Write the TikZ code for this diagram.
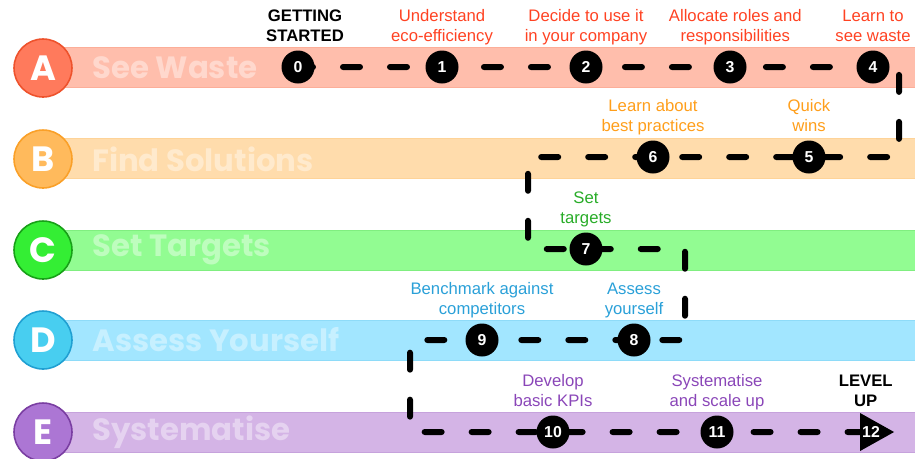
\documentclass[tikz,border=0pt]{standalone}
\usepackage{fontspec}
\setmainfont{Liberation Sans}
\newfontfamily\lanefont{Poppins}
\usetikzlibrary{shapes.geometric,positioning}

\definecolor{redband}{RGB}{255,190,172}
\definecolor{reddot}{RGB}{255,122,92}
\definecolor{redline}{RGB}{238,82,44}
\definecolor{redtext}{RGB}{255,66,34}
\definecolor{orangeband}{RGB}{255,220,172}
\definecolor{orangedot}{RGB}{255,186,92}
\definecolor{orangeline}{RGB}{250,160,40}
\definecolor{orangetext}{RGB}{255,158,26}
\definecolor{greenband}{RGB}{146,252,146}
\definecolor{greendot}{RGB}{52,238,52}
\definecolor{greenline}{RGB}{24,160,24}
\definecolor{greentext}{RGB}{40,172,40}
\definecolor{blueband}{RGB}{162,230,255}
\definecolor{bluedot}{RGB}{72,206,240}
\definecolor{blueline}{RGB}{32,160,210}
\definecolor{bluetext}{RGB}{42,160,216}
\definecolor{purpleband}{RGB}{212,180,230}
\definecolor{purpledot}{RGB}{172,118,212}
\definecolor{purpleline}{RGB}{122,62,162}
\definecolor{purpletext}{RGB}{138,70,184}

\pgfdeclarelayer{lanes}
\pgfdeclarelayer{route}
\pgfsetlayers{lanes,route,main}

\tikzstyle{lanedot} = [circle, minimum size=11.6mm, line width=0.9pt, text=white, font=\lanefont\bfseries\fontsize{20}{20}\selectfont]
\tikzstyle{lanetitle} = [anchor=west, inner sep=0pt, font=\lanefont\bfseries\fontsize{17.5}{18}\selectfont]
\tikzstyle{stepdot} = [circle, fill=black, text=white, minimum size=6.6mm, inner sep=0pt, font=\bfseries\fontsize{9}{10}\selectfont]
\tikzstyle{levelup} = [isosceles triangle, isosceles triangle stretches, fill=black, text=white, minimum width=7.6mm, minimum height=6.8mm, inner sep=0pt, font=\bfseries\fontsize{9}{10}\selectfont]
\tikzstyle{steplabel} = [align=center, inner sep=0pt, text depth=0pt, font=\fontsize{9.5}{11.3}\selectfont]
\tikzstyle{route} = [line width=1.2mm, line cap=round, line join=round, dash pattern=on 3.4mm off 6mm, dash phase=0.4mm]

\begin{document}
\begin{tikzpicture}[x=0.02cm,y=-0.02cm]
\useasboundingbox (0,0) rectangle (915,458);

% lanes
\begin{pgfonlayer}{lanes}
\filldraw[fill=redband, draw=redband!85!redline, line width=0.4pt] (60,47) rectangle (916,87);
\filldraw[fill=orangeband, draw=orangeband!85!orangeline, line width=0.4pt] (60,138) rectangle (916,178);
\filldraw[fill=greenband, draw=greenband!85!greenline, line width=0.4pt] (60,230) rectangle (916,270);
\filldraw[fill=blueband, draw=blueband!85!blueline, line width=0.4pt] (60,320) rectangle (916,360);
\filldraw[fill=purpleband, draw=purpleband!85!purpleline, line width=0.4pt] (60,412) rectangle (916,452);
\end{pgfonlayer}

\node (A) [lanedot, fill=reddot, draw=redline] at (43,68) {A};
\node (B) [lanedot, fill=orangedot, draw=orangeline] at (43,159) {B};
\node (C) [lanedot, fill=greendot, draw=greenline] at (43,250) {C};
\node (D) [lanedot, fill=bluedot, draw=blueline] at (43,340) {D};
\node (E) [lanedot, fill=purpledot, draw=purpleline] at (43,432) {E};

\node (seewaste) [lanetitle, text=redband!60!white] at (92,68) {See Waste};
\node (findsol) [lanetitle, text=orangeband!60!white] at (92,159) {Find Solutions};
\node (settarg) [lanetitle, text=greenband!60!white] at (92,250) {Set Targets};
\node (assess) [lanetitle, text=blueband!60!white] at (92,340) {Assess Yourself};
\node (system) [lanetitle, text=purpleband!60!white] at (92,432) {Systematise};

% steps
\node (s0) [stepdot] at (298,67) {0};
\node (s1) [stepdot] at (442,67) {1};
\node (s2) [stepdot] at (586,67) {2};
\node (s3) [stepdot] at (730,67) {3};
\node (s4) [stepdot] at (873,67) {4};
\node (s5) [stepdot] at (809,157) {5};
\node (s6) [stepdot] at (653,157) {6};
\node (s7) [stepdot] at (586,249) {7};
\node (s8) [stepdot] at (634,340) {8};
\node (s9) [stepdot] at (482,340) {9};
\node (s10) [stepdot] at (553,432) {10};
\node (s11) [stepdot] at (717,432) {11};
\node (s12) [levelup] at (871,432) {12};

\coordinate (turnA) at (899,67);
\coordinate (turnB) at (899,157);
\coordinate (turnB2) at (528,157);
\coordinate (turnC) at (528,249);
\coordinate (turnC2) at (685,249);
\coordinate (turnD) at (685,340);
\coordinate (turnD2) at (410,340);
\coordinate (turnE) at (410,432);

\begin{pgfonlayer}{route}
\draw [route] (s0.center) -- (s1.center) -- (s2.center) -- (s3.center) -- (s4.center) -- (turnA) -- (turnB) -- (s5.center) -- (s6.center) -- (turnB2) -- (turnC) -- (s7.center) -- (turnC2) -- (turnD) -- (s8.center) -- (s9.center) -- (turnD2) -- (turnE) -- (s10.center) -- (s11.center) -- (s12);
\end{pgfonlayer}

% labels
\node (l0) [steplabel, font=\bfseries\fontsize{9.5}{11.3}\selectfont, above=5pt of s0, xshift=4] {GETTING\\STARTED};
\node (l1) [steplabel, text=redtext, above=5pt of s1] {Understand\\eco-efficiency};
\node (l2) [steplabel, text=redtext, above=5pt of s2] {Decide to use it\\in your company};
\node (l3) [steplabel, text=redtext, above=5pt of s3, xshift=3] {Allocate roles and\\responsibilities};
\node (l4) [steplabel, text=redtext, above=5pt of s4] {Learn to\\see waste};
\node (l5) [steplabel, text=orangetext, above=5pt of s5] {Quick\\wins};
\node (l6) [steplabel, text=orangetext, above=5pt of s6] {Learn about\\best practices};
\node (l7) [steplabel, text=greentext, above=5pt of s7] {Set\\targets};
\node (l8) [steplabel, text=bluetext, above=5pt of s8] {Assess\\yourself};
\node (l9) [steplabel, text=bluetext, above=5pt of s9] {Benchmark against\\competitors};
\node (l10) [steplabel, text=purpletext, above=5pt of s10] {Develop\\basic KPIs};
\node (l11) [steplabel, text=purpletext, above=5pt of s11] {Systematise\\and scale up};
\node (l12) [steplabel, font=\bfseries\fontsize{9.5}{11.3}\selectfont, above=7pt of s12, xshift=-3] {LEVEL\\UP};

\end{tikzpicture}
\end{document}
